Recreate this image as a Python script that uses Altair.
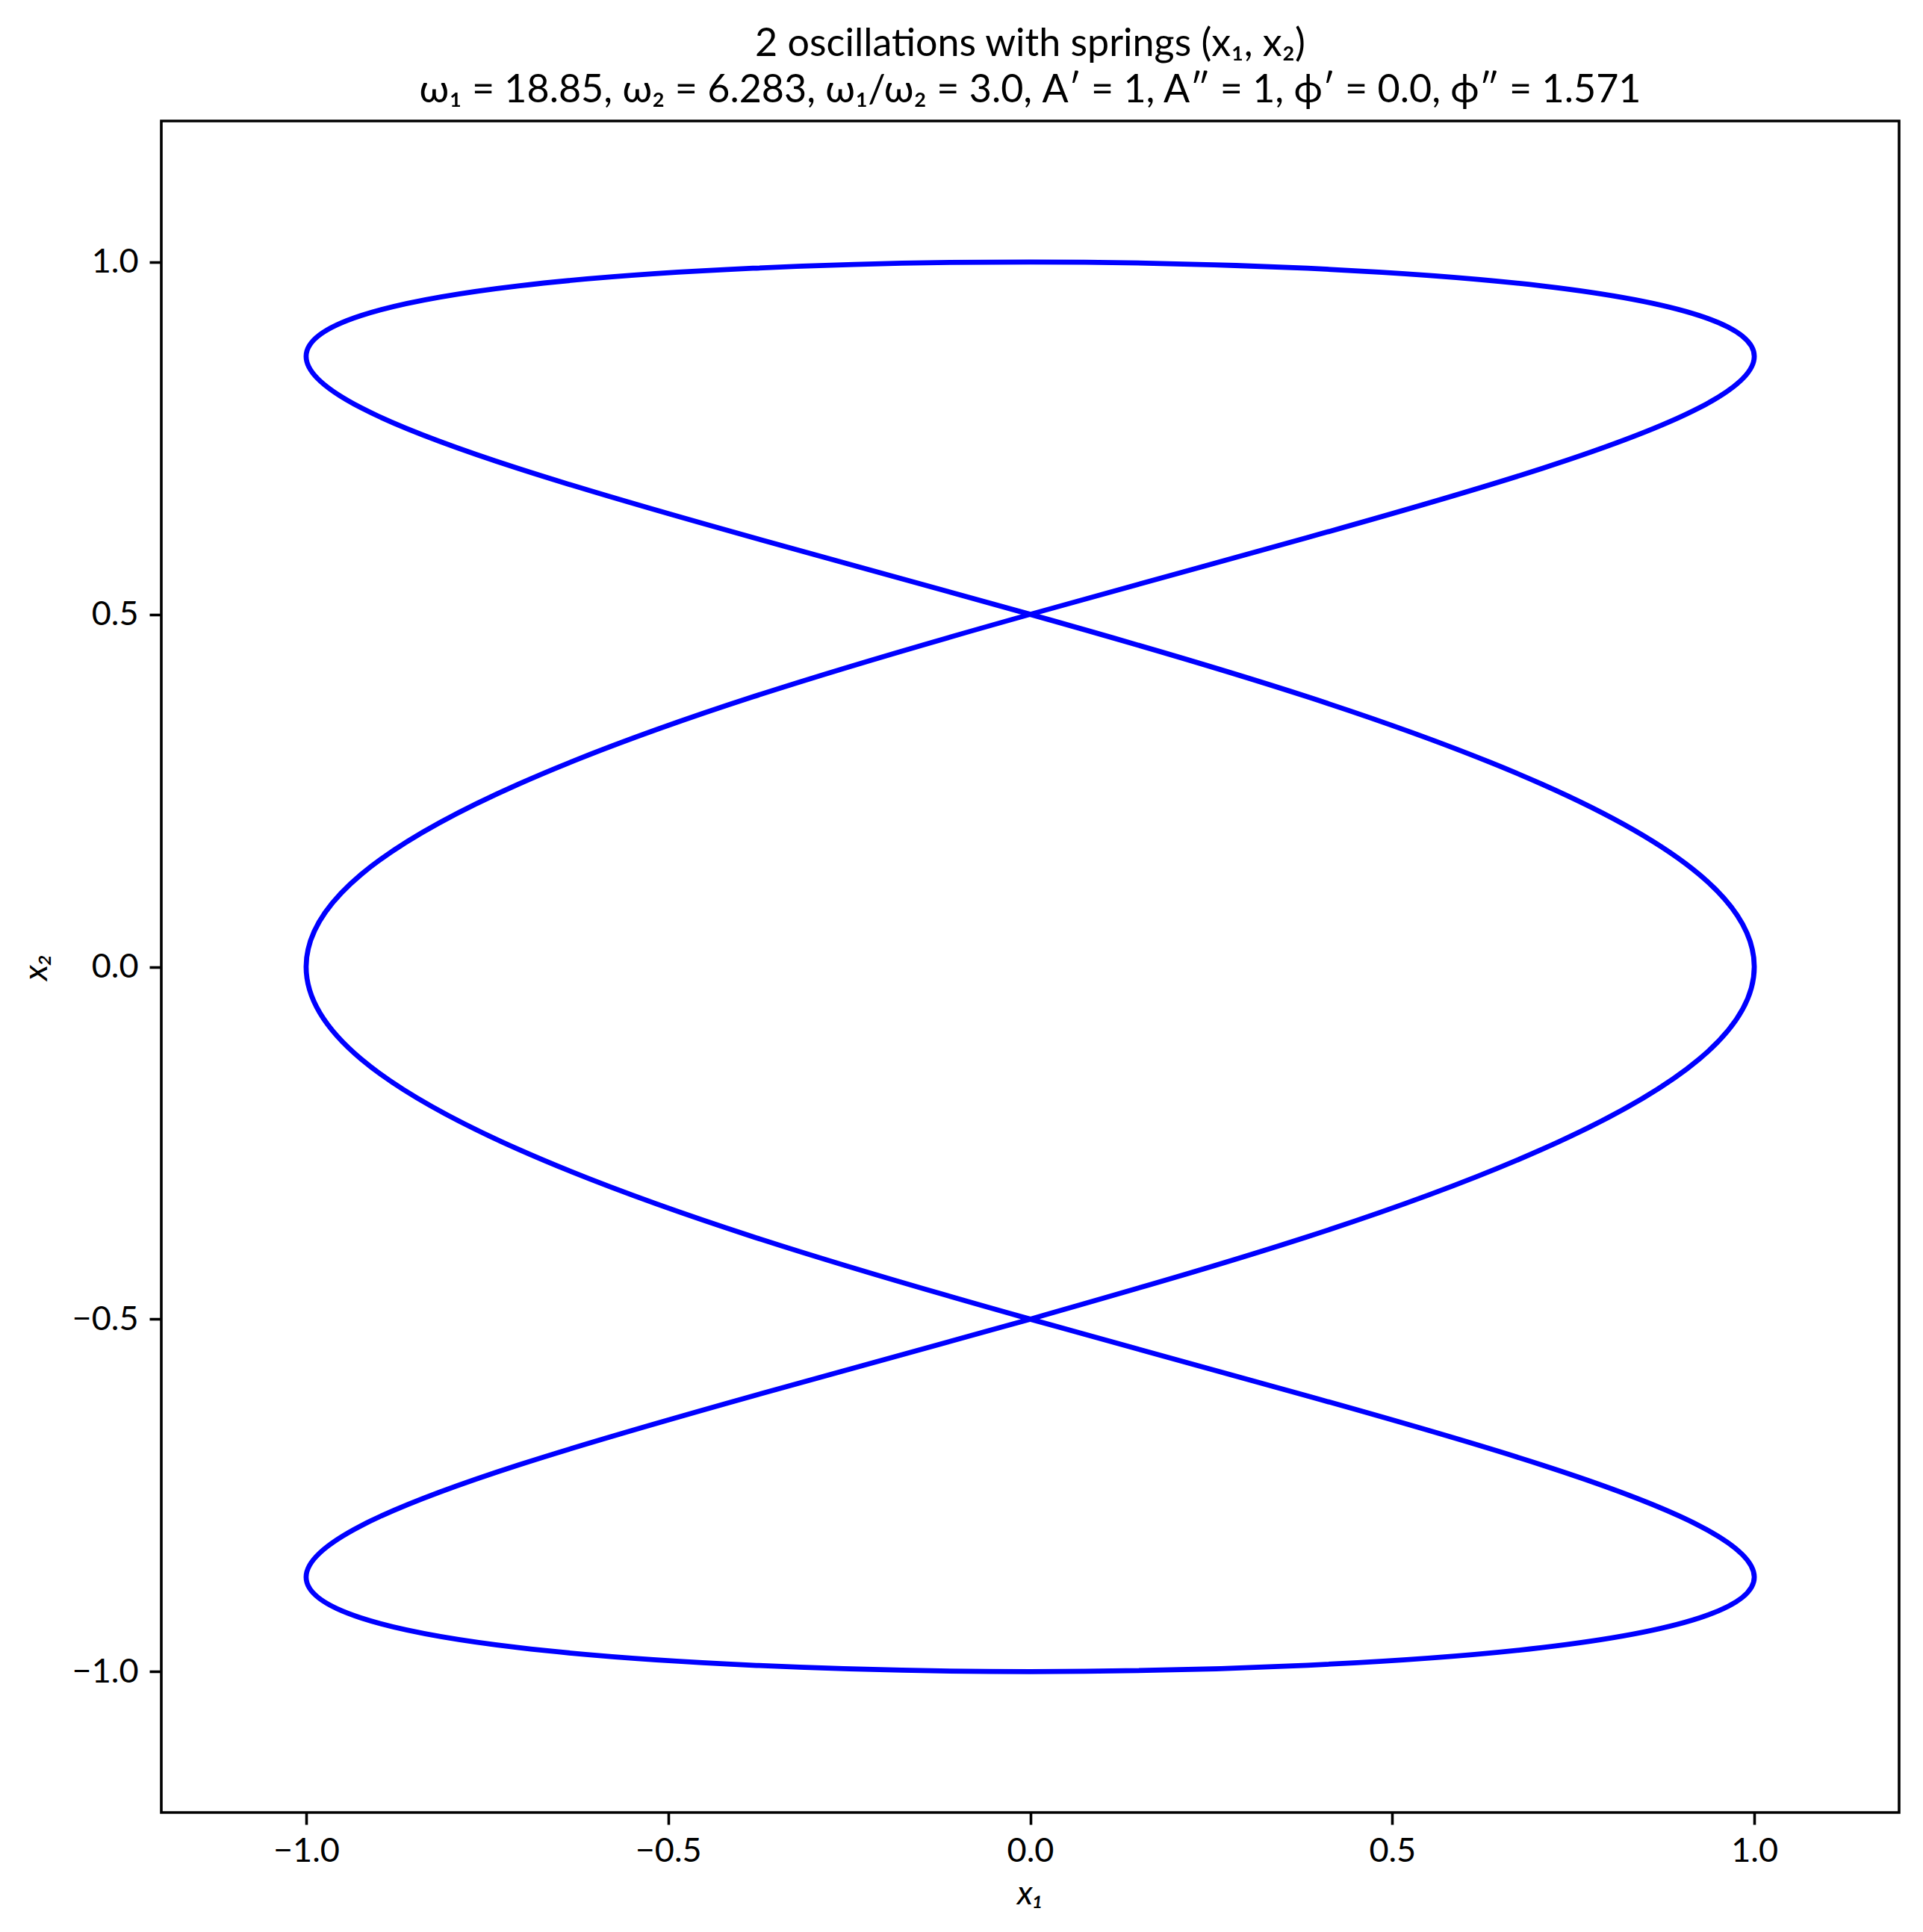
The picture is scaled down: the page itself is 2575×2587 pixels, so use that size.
import altair as alt
import pandas as pd

# Points (x1, x2), in drawing order
x1_vals = [0, -0.383, -0.707, -0.924, -1, -0.924, -0.707, -0.383,
           0, 0.383, 0.707, 0.924, 1, 0.924, 0.707, 0.383,
           0, -0.383, -0.707, -0.924, -1, -0.924, -0.707, -0.383,
           0, 0.383, 0.707, 0.924, 1, 0.924, 0.707, 0.383,
           0, -0.383, -0.707, -0.924, -1, -0.924, -0.707, -0.383,
           0, 0.383, 0.707, 0.924, 1, 0.924, 0.707, 0.383, 0]
x2_vals = [-0.5, -0.609, -0.707, -0.793, -0.866, -0.924, -0.966, -0.991,
           -1, -0.991, -0.966, -0.924, -0.866, -0.793, -0.707, -0.609,
           -0.5, -0.383, -0.259, -0.131, 0, 0.131, 0.259, 0.383,
           0.5, 0.609, 0.707, 0.793, 0.866, 0.924, 0.966, 0.991,
           1, 0.991, 0.966, 0.924, 0.866, 0.793, 0.707, 0.609,
           0.5, 0.383, 0.259, 0.131, 0, -0.131, -0.259, -0.383, -0.5]

tick_vals = [-1.0, -0.5, 0.0, 0.5, 1.0]
title_lines = [
    "2 oscillations with springs (x\u2081, x\u2082)",
    "\u03c9\u2081 = 18.85, \u03c9\u2082 = 6.283, \u03c9\u2081/\u03c9\u2082 = 3.0, A\u2032 = 1, A\u2033 = 1, \u03d5\u2032 = 0.0, \u03d5\u2033 = 1.571",
]

df = pd.DataFrame({"x1": x1_vals, "x2": x2_vals, "i": list(range(len(x1_vals)))})

FONT = "Lato"
W, H = 2327, 2265

chart = alt.Chart(df).mark_line(
    color="#0000ff", strokeWidth=6.75, interpolate="natural"
).encode(
    x=alt.X("x1:Q", scale=alt.Scale(domain=[-1.2, 1.2], nice=False, zero=False),
            axis=alt.Axis(title="x\u2081", values=tick_vals, format=".1f",
                          titleX=W / 2, titleY=122, titleBaseline="alphabetic",
                          titleAlign="center", titleFontStyle="italic")),
    y=alt.Y("x2:Q", scale=alt.Scale(domain=[-1.2, 1.2], nice=False, zero=False),
            axis=alt.Axis(title="x\u2082", values=tick_vals, format=".1f",
                          titleX=-154, titleY=H / 2, titleBaseline="alphabetic",
                          titleAlign="center", titleAngle=270, titleFontStyle="italic")),
    order="i:Q",
).properties(
    width=W, height=H,
    title=alt.TitleParams(text=title_lines, fontSize=52, font=FONT, fontWeight="normal",
                          anchor="middle", lineHeight=62, baseline="bottom", offset=13,
                          dy=51, color="black"),
    autosize=alt.AutoSizeParams(type="none"),
    padding={"left": 208, "top": 154, "right": 20, "bottom": 140},
).configure_view(
    stroke="black", strokeWidth=3.6
).configure_axis(
    grid=False, domain=False, ticks=True, tickColor="black", tickWidth=3.6, tickSize=16,
    labelFont=FONT, labelFontSize=45, labelColor="black", labelPadding=13,
    titleFont=FONT, titleFontSize=45, titleColor="black", titleFontWeight="normal",
).configure_axisY(labelPadding=15)

chart.save("out.html", embed_options={"renderer": "svg", "actions": False})
